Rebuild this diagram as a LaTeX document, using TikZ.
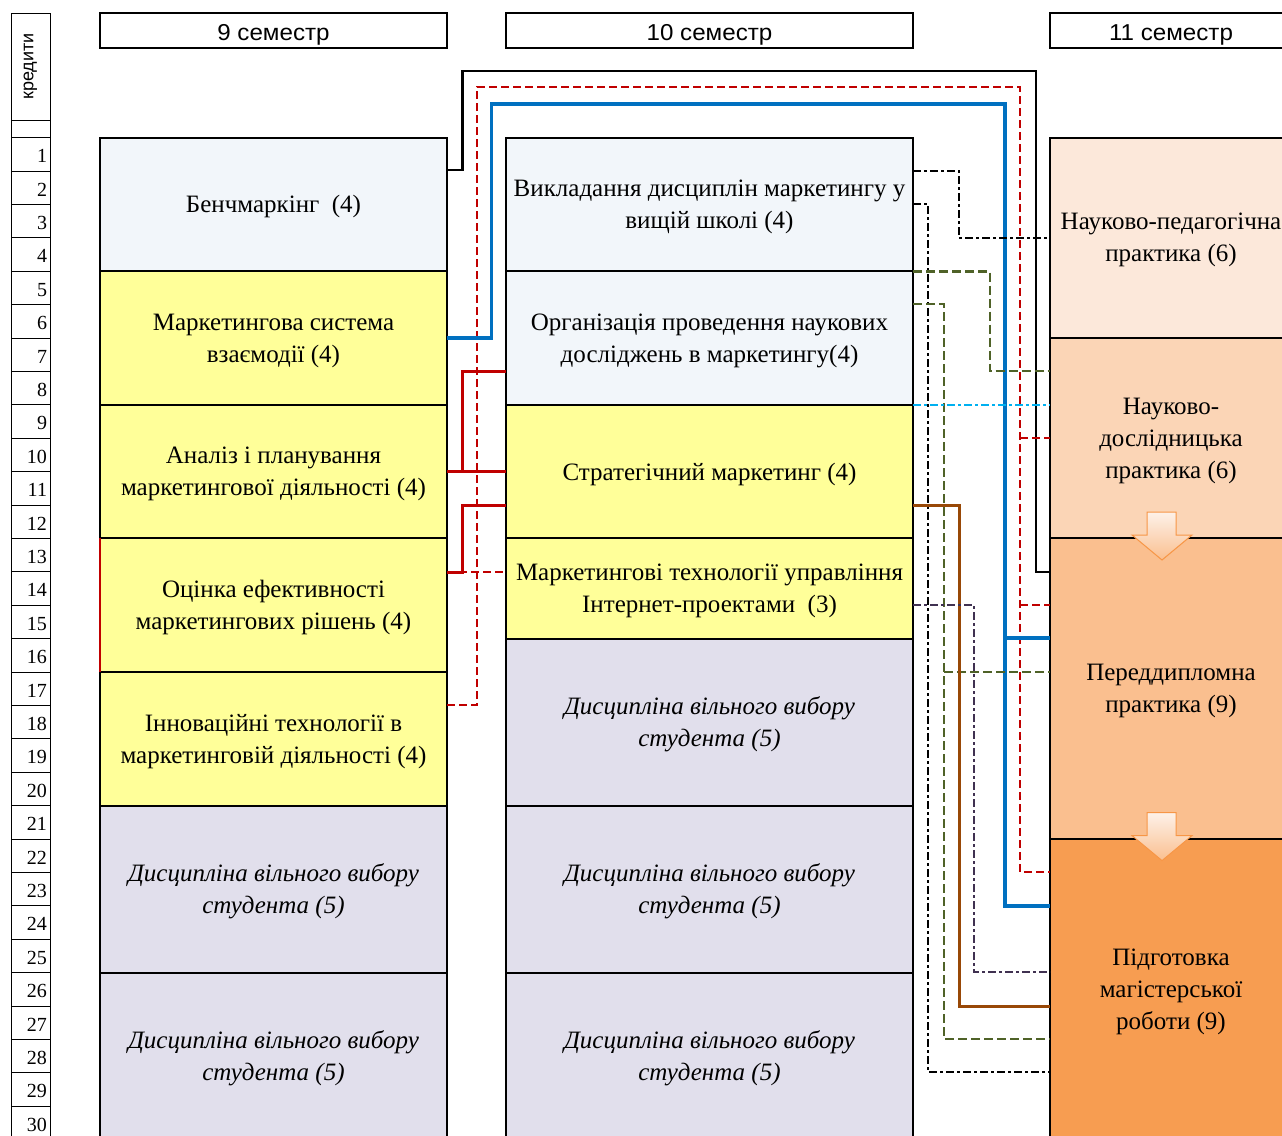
\documentclass[tikz,border=0pt]{standalone}
\usepackage{fontspec}
\setmainfont{Liberation Serif}
\setsansfont{Liberation Sans}
\newfontfamily\hdrfont[FakeStretch=1.05]{Liberation Sans}
\definecolor{cBench}{HTML}{F2F6FA}
\definecolor{cYel}{HTML}{FFFF99}
\definecolor{cLav}{HTML}{E1DFEC}
\definecolor{cPrA}{HTML}{FCE8DA}
\definecolor{cPrB}{HTML}{FBD5B6}
\definecolor{cPrC}{HTML}{FABF8F}
\definecolor{cPrD}{HTML}{F79D51}
\definecolor{cRed}{HTML}{C00000}
\definecolor{cBlue}{HTML}{0070C0}
\definecolor{cOlive}{HTML}{4F6228}
\definecolor{cSky}{HTML}{00B0F0}
\definecolor{cBrown}{HTML}{984807}
\definecolor{cPurp}{HTML}{403151}
\definecolor{cArrow}{HTML}{F79646}
\begin{document}
\begin{tikzpicture}[x=1pt,y=-1pt,
  box/.style={draw, line width=2pt, outer sep=0pt, align=center, text depth=0pt, font=\fontsize{25}{32}\selectfont},
  hdr/.style={draw, line width=2pt, outer sep=0pt, minimum height=35, text height=19, text depth=0pt, font=\hdrfont\fontsize{23}{24}\selectfont},
  cred/.style={draw, line width=0.8pt, outer sep=0pt, minimum width=39, minimum height=33.4, text width=33, text height=17, text depth=0pt, inner xsep=3pt, align=right, font=\fontsize{20}{24}\selectfont},
  free/.style={box, fill=cLav, font=\fontsize{25}{32}\selectfont\itshape},
  blk/.style={line width=2.5pt},
  redline/.style={cRed, line width=3pt},
  reddash/.style={cRed, line width=2.2pt, dash pattern=on 8pt off 4pt},
  dashdot/.style={line width=2.2pt, dash pattern=on 8pt off 3pt on 3pt off 3pt},
  olive/.style={cOlive, line width=2.2pt, dash pattern=on 9pt off 4pt},
  blockarr/.style={top color=cPrA!60!white, bottom color=cPrC, draw=cArrow, line width=1pt}]
\useasboundingbox (0,0) rectangle (1282,1135);
\clip (0,0) rectangle (1282,1135);
\node[cred, minimum height=107, text width=33, align=center] (crh) at (30.5,66.5) {};
\node[rotate=90, font=\sffamily\fontsize{18}{20}\selectfont] (crlab) at (crh.center) {кредити};
\node[cred, minimum height=17.5, text height=0pt] (cr0) at (30.5,128.75) {};
\node[cred] (cr1) at (30.5,154.2) {1};
\node[cred] (cr2) at (30.5,187.6) {2};
\node[cred] (cr3) at (30.5,221.0) {3};
\node[cred] (cr4) at (30.5,254.4) {4};
\node[cred] (cr5) at (30.5,287.8) {5};
\node[cred] (cr6) at (30.5,321.2) {6};
\node[cred] (cr7) at (30.5,354.6) {7};
\node[cred] (cr8) at (30.5,388.0) {8};
\node[cred] (cr9) at (30.5,421.4) {9};
\node[cred] (cr10) at (30.5,454.8) {10};
\node[cred] (cr11) at (30.5,488.2) {11};
\node[cred] (cr12) at (30.5,521.6) {12};
\node[cred] (cr13) at (30.5,555.0) {13};
\node[cred] (cr14) at (30.5,588.4) {14};
\node[cred] (cr15) at (30.5,621.8) {15};
\node[cred] (cr16) at (30.5,655.2) {16};
\node[cred] (cr17) at (30.5,688.6) {17};
\node[cred] (cr18) at (30.5,722.0) {18};
\node[cred] (cr19) at (30.5,755.4) {19};
\node[cred] (cr20) at (30.5,788.8) {20};
\node[cred] (cr21) at (30.5,822.2) {21};
\node[cred] (cr22) at (30.5,855.6) {22};
\node[cred] (cr23) at (30.5,889.0) {23};
\node[cred] (cr24) at (30.5,922.4) {24};
\node[cred] (cr25) at (30.5,955.8) {25};
\node[cred] (cr26) at (30.5,989.2) {26};
\node[cred] (cr27) at (30.5,1022.6) {27};
\node[cred] (cr28) at (30.5,1056.0) {28};
\node[cred] (cr29) at (30.5,1089.4) {29};
\node[cred] (cr30) at (30.5,1122.8) {30};
\node[hdr, minimum width=347] (h9) at (273.5,30.5) {9 семестр};
\node[hdr, minimum width=407] (h10) at (709.5,30.5) {10 семестр};
\node[hdr, minimum width=242] (h11) at (1171,30.5) {11 семестр};
\node[box, fill=cBench, minimum width=347, minimum height=133.6] (s9a) at (273.5,204.3) {Бенчмаркінг\ \ (4)};
\node[box, fill=cYel, minimum width=347, minimum height=133.6] (s9b) at (273.5,337.9) {Маркетингова система\\взаємодії (4)};
\node[box, fill=cYel, minimum width=347, minimum height=133.6] (s9c) at (273.5,471.5) {Аналіз і планування\\маркетингової діяльності (4)};
\node[box, fill=cYel, minimum width=347, minimum height=133.6] (s9d) at (273.5,605.1) {Оцінка ефективності\\маркетингових рішень (4)};
\node[box, fill=cYel, minimum width=347, minimum height=133.6] (s9e) at (273.5,738.7) {Інноваційні технології в\\маркетинговій діяльності (4)};
\node[free, minimum width=347, minimum height=167] (s9f) at (273.5,889.0) {Дисципліна вільного вибору\\студента (5)};
\node[free, minimum width=347, minimum height=167] (s9g) at (273.5,1056.0) {Дисципліна вільного вибору\\студента (5)};
\node[box, fill=cBench, minimum width=407, minimum height=133.6] (s10a) at (709.5,204.3) {Викладання дисциплін маркетингу у\\вищій школі (4)};
\node[box, fill=cBench, minimum width=407, minimum height=133.6] (s10b) at (709.5,337.9) {Організація проведення наукових\\досліджень в маркетингу(4)};
\node[box, fill=cYel, minimum width=407, minimum height=133.6] (s10c) at (709.5,471.5) {Стратегічний маркетинг (4)};
\node[box, fill=cYel, minimum width=407, minimum height=100.2] (s10d) at (709.5,588.4) {Маркетингові технології управління\\Інтернет-проектами\ \ (3)};
\node[free, minimum width=407, minimum height=167] (s10e) at (709.5,722.0) {Дисципліна вільного вибору\\студента (5)};
\node[free, minimum width=407, minimum height=167] (s10f) at (709.5,889.0) {Дисципліна вільного вибору\\студента (5)};
\node[free, minimum width=407, minimum height=167] (s10g) at (709.5,1056.0) {Дисципліна вільного вибору\\студента (5)};
\node[box, fill=cPrA, minimum width=242, minimum height=200.4] (s11a) at (1171,237.7) {Науково-педагогічна\\практика (6)};
\node[box, fill=cPrB, minimum width=242, minimum height=200.4] (s11b) at (1171,438.1) {Науково-\\дослідницька\\практика (6)};
\node[box, fill=cPrC, minimum width=242, minimum height=300.6] (s11c) at (1171,688.6) {Переддипломна\\практика (9)};
\node[box, fill=cPrD, minimum width=242, minimum height=300.6] (s11d) at (1171,989.2) {Підготовка\\магістерської\\роботи (9)};
\draw[cRed, line width=2pt] (s9d.north west) -- (s9d.south west);
\shade[blockarr] (1147,512) -- (1176,512) -- (1176,535) -- (1192,535) -- (1162,560) -- (1132,535) -- (1147,535) -- cycle;
\shade[blockarr] (1147,812.6) -- (1176,812.6) -- (1176,835.6) -- (1192,835.6) -- (1162,860.6) -- (1132,835.6) -- (1147,835.6) -- cycle;
\draw[blk] (s9a.east |- 0,170) -| (462.5,71) -| (1036,572) -- (s11c.west |- 0,572);
\draw[reddash] (s9e.east |- 0,705) -| (477,87) -| (1020,872) -- (s11d.west |- 0,872);
\draw[reddash] (s9d.east |- 0,572) -- (s10d.west |- 0,572);
\draw[reddash] (1020,438) -- (s11b.west |- 0,438);
\draw[reddash] (1020,605) -- (s11c.west |- 0,605);
\draw[cBlue, line width=3.2pt] (s9b.east) -| (491.5,104) -| (1005,906) -- (s11d.west |- 0,906);
\draw[cBlue, line width=3.2pt] (1005,638) -- (s11c.west |- 0,638);
\draw[redline] (s9c.east) -- (s10c.west);
\draw[redline] (s9c.east) -| (462.5,371) -- (s10b.west |- 0,371);
\draw[redline] (s9d.east |- 0,572) -| (462.5,505) -- (s10c.west |- 0,505);
\draw[dashdot] (s10a.east |- 0,171) -| (959,237.7) -- (s11a.west);
\draw[dashdot] (s10a.east) -| (928,1072) -- (s11d.west |- 0,1072);
\draw[olive] (s10b.east |- 0,271.5) -| (990,371) -- (s11b.west |- 0,371);
\draw[olive] (s10b.east |- 0,304) -| (944,1039) -- (s11d.west |- 0,1039);
\draw[olive] (944,672) -- (s11c.west |- 0,672);
\draw[cSky, line width=2.2pt, dash pattern=on 8pt off 3pt on 3pt off 3pt] (s10c.north east) -- (s11b.west |- 0,404.7);
\draw[cBrown, line width=3pt] (s10c.east |- 0,505) -| (959,1006) -- (s11d.west |- 0,1006);
\draw[cPurp, line width=2.2pt, dash pattern=on 8pt off 3pt on 3pt off 3pt] (s10d.east |- 0,605) -| (974,972) -- (s11d.west |- 0,972);
\end{tikzpicture}
\end{document}
